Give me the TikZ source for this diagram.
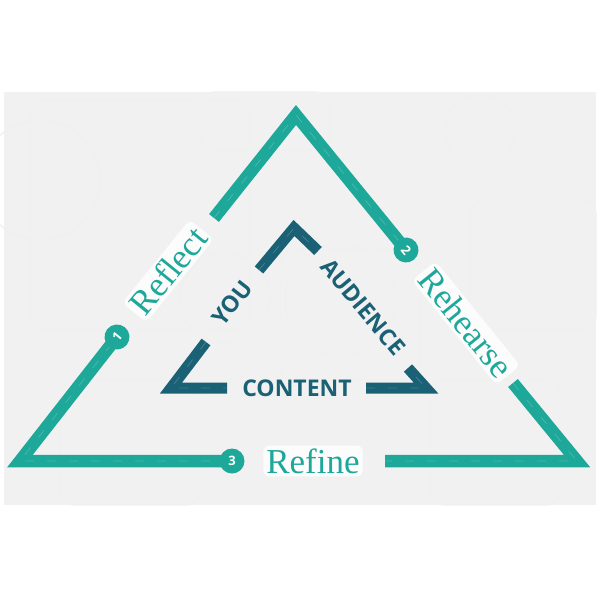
\documentclass[tikz,border=0pt]{standalone}
\usepackage{fontspec}
\setmainfont{Liberation Serif}
\newfontfamily\wordfont{Open Sans}
\usetikzlibrary{positioning}
\definecolor{tri-teal}{HTML}{1DA89A}
\definecolor{tri-dark}{HTML}{1A6175}
\definecolor{tri-back}{HTML}{F1F1F1}

\tikzset{
  rim/.style={draw=tri-teal, line width=12.5pt, line join=miter},
  chev/.style={draw=tri-dark, line width=11pt, line join=miter},
  streak/.style={draw=white, line width=0.8pt, opacity=0.18, dash pattern=on 9pt off 13pt},
  ghost/.style={draw=black!6, line width=1.2pt, rounded corners=14pt},
  steplabel/.style={text=tri-teal, fill=white, fill opacity=0.85, text opacity=1,
    rounded corners=6pt, inner sep=3pt, font=\fontsize{35}{35}\selectfont},
  numdot/.style={circle, fill=tri-teal, text=white, minimum size=25pt, inner sep=0pt,
    font=\wordfont\bfseries\fontsize{13}{13}\selectfont},
  innerword/.style={text=tri-dark, inner sep=1pt, font=\wordfont\bfseries\fontsize{23}{23}\selectfont}
}

\begin{document}
\begin{tikzpicture}[x=1pt, y=-1pt]
  \useasboundingbox (0,0) rectangle (600,600);
  \fill[white] (0,0) rectangle (600,600);
  \fill[tri-back] (4,92) rectangle (596,505);

  % faint shapes in the back
  \draw[ghost] (30,100) rectangle (250,330);
  \draw[ghost] (200,92) rectangle (330,150);
  \draw[ghost] (40,180) circle[radius=60pt];
  \draw[ghost] (280,250) rectangle (420,380);
  \draw[ghost] (225,298) circle[radius=45pt];
  \draw[ghost] (470,200) rectangle (596,330);
  \draw[ghost] (340,300) circle[radius=55pt];
  \draw[ghost] (60,380) rectangle (200,505);
  \draw[ghost] (430,380) rectangle (560,505);
  \draw[ghost] (480,130) circle[radius=35pt];

  % corners and gaps of the outer triangle
  \coordinate (apex) at (296,115);
  \coordinate (bl) at (20,461);
  \coordinate (br) at (577,461);
  \coordinate (c1) at (117,337);
  \coordinate (c2) at (406,250);
  \coordinate (c3) at (232,461);
  \coordinate (lgap) at (214,218);
  \coordinate (rgap) at (513,383);
  \coordinate (bgap) at (385,461);

  \draw[rim] (lgap) -- (apex) -- (c2);
  \draw[rim] (rgap) -- (br) -- (bgap);
  \draw[rim] (c3) -- (bl) -- (c1);
  \draw[streak] (lgap) -- (apex) -- (c2);
  \draw[streak] (rgap) -- (br) -- (bgap);
  \draw[streak] (c3) -- (bl) -- (c1);

  % inner chevrons
  \coordinate (ytop) at (294,228);
  \coordinate (yleft) at (259,270);
  \coordinate (yright) at (318,251);
  \coordinate (ltip) at (171,388);
  \coordinate (lup) at (206,342);
  \coordinate (lend) at (227,388);
  \coordinate (rtip) at (426,388);
  \coordinate (rup) at (408,368);
  \coordinate (rend) at (366,388);

  \draw[chev] (yleft) -- (ytop) -- (yright);
  \draw[chev] (lup) -- (ltip) -- (lend);
  \draw[chev] (rend) -- (rtip) -- (rup);
  \draw[streak] (yleft) -- (ytop) -- (yright);
  \draw[streak] (lup) -- (ltip) -- (lend);
  \draw[streak] (rend) -- (rtip) -- (rup);

  \node[innerword, rotate=52] (you) at (232,303) {YOU};
  \node[innerword, rotate=-50] (audience) at (363,307) {AUDIENCE};
  \node[innerword] (content) at (297,388) {CONTENT};

  % steps
  \node[steplabel, rotate=51] (reflect) at (168,271) {Reflect};
  \node[steplabel, rotate=-51] (rehearse) at (466,323) {Rehearse};
  \node[steplabel] (refine) at (313,461) {Refine};

  \node[numdot, rotate=51] (one) at (c1) {1};
  \node[numdot, rotate=-51] (two) at (c2) {2};
  \node[numdot] (three) at (c3) {3};
\end{tikzpicture}
\end{document}
